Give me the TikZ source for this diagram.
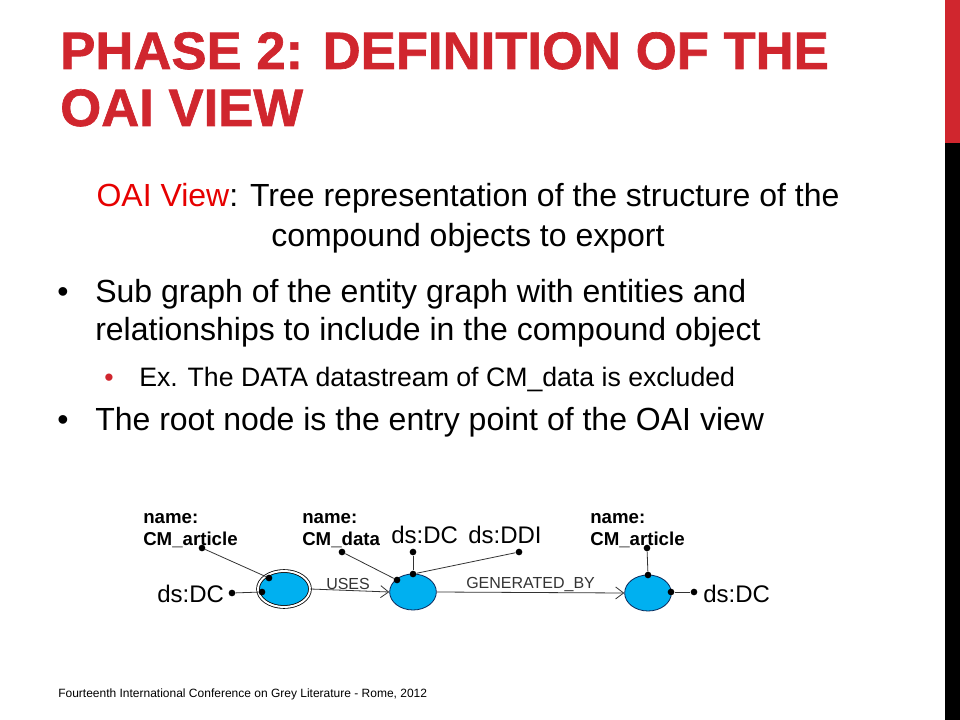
\documentclass[tikz,border=0pt]{standalone}
\usepackage{fontspec}
\setmainfont{Liberation Sans}
\newfontfamily\titlefont[BoldFeatures={FakeBold=1.2}]{Liberation Sans}
\usepackage{xcolor}
\usetikzlibrary{arrows.meta,shapes.geometric}
\definecolor{slidered}{RGB}{208,38,46}
\definecolor{viewred}{RGB}{230,0,0}
\definecolor{entityblue}{RGB}{0,176,240}
\definecolor{edgeblue}{RGB}{10,40,90}
\tikzset{
	entity/.style={
			ellipse, draw=edgeblue, fill=entityblue, line width=0.6pt,
			minimum width=35pt, minimum height=27pt, inner sep=0pt
		},
	rootentity/.style={
			entity, draw=black, double=white, double distance=1.5pt,
			minimum width=39pt, minimum height=27pt
		},
	dot/.style={circle, fill=black, inner sep=0pt, minimum size=5pt},
	link/.style={draw=black!80, line width=0.6pt},
	rel/.style={link, -{Straight Barb[length=6pt,width=9pt]}},
	txt/.style={inner sep=0pt, anchor=base west},
	title/.style={txt, text=slidered, font=\titlefont\bfseries\fontsize{39.5}{44}\selectfont},
	body/.style={txt, font=\fontsize{24}{29}\selectfont},
	subbody/.style={txt, font=\fontsize{20}{24}\selectfont},
	namelbl/.style={txt, font=\bfseries\fontsize{14}{17}\selectfont},
	dslbl/.style={txt, font=\fontsize{18}{21}\selectfont},
	rellbl/.style={txt, text=black!80, font=\fontsize{12}{14}\selectfont}
}

\begin{document}
\begin{tikzpicture}[x=0.75pt, y=-0.75pt]
	\useasboundingbox (0,0) rectangle (960,720);
	% side bar
	\fill[slidered] (945,0) rectangle (960,143);
	\fill[black] (945,143) rectangle (960,720);

	% title
	\node[title] (t1) at (60,69) {PHASE 2: DEFINITION OF THE};
	\node[title] (t2) at (60,126) {OAI VIEW};

	% definition
	\node[body, anchor=base] (def1) at (468,207) {\textcolor{viewred}{OAI View}: Tree representation of the structure of the};
	\node[body, anchor=base] (def2) at (468,247) {compound objects to export};

	% bullets
	\node[body] (bul1) at (57,302) {•};
	\node[body] (item1) at (95,302) {Sub graph of the entity graph with entities and};
	\node[body] (item1b) at (95,340) {relationships to include in the compound object};
	\node[subbody, text=slidered] (bul2) at (104,386) {•};
	\node[subbody] (item2) at (139,386) {Ex. The DATA datastream of CM\_data is excluded};
	\node[body] (bul3) at (57,430) {•};
	\node[body] (item3) at (95,430) {The root node is the entry point of the OAI view};

	% entities
	\node[rootentity] (root) at (284,589) {};
	\node[entity] (data) at (413,592) {};
	\node[entity] (art) at (648,593) {};

	% relationships
	\draw[rel] (root.east) -- (data.west);
	\draw[rel] (data.east) -- (art.west);
	\node[rellbl] (uses) at (326,589) {USES};
	\node[rellbl] (genby) at (466,588) {GENERATED\_BY};

	% labels
	\node[namelbl] (n1) at (143,523) {name:};
	\node[namelbl] (n1b) at (143,545) {CM\_article};
	\node[namelbl] (n2) at (302,523) {name:};
	\node[namelbl] (n2b) at (302,545) {CM\_data};
	\node[namelbl] (n3) at (590,523) {name:};
	\node[namelbl] (n3b) at (590,545) {CM\_article};
	\node[dslbl] (dc1) at (157,602) {ds:DC};
	\node[dslbl] (dc2) at (391,543) {ds:DC};
	\node[dslbl] (ddi) at (468,543) {ds:DDI};
	\node[dslbl] (dc3) at (703,602) {ds:DC};

	% attribute dots
	\node[dot] (pdc1) at (232,593) {};
	\node[dot] (proot1) at (262,592) {};
	\node[dot] (pn1) at (202,548) {};
	\node[dot] (proot2) at (269,578) {};
	\node[dot] (pn2) at (342,552) {};
	\node[dot] (pdata1) at (397,580) {};
	\node[dot] (pdc2) at (413,552) {};
	\node[dot] (pdata2) at (413,574) {};
	\node[dot] (pddi) at (519,552) {};
	\node[dot] (pn3) at (647,548) {};
	\node[dot] (part1) at (648,575) {};
	\node[dot] (part2) at (671,592) {};
	\node[dot] (pdc3) at (694,592) {};

	\draw[link] (pdc1) -- (proot1);
	\draw[link] (pn1) -- (proot2);
	\draw[link] (pn2) -- (pdata1);
	\draw[link] (pdc2) -- (pdata2);
	\draw[link] (pdata2) -- (pddi);
	\draw[link] (pn3) -- (part1);
	\draw[link] (part2) -- (pdc3);

	% footer
	\node[txt, font=\fontsize{9}{11}\selectfont] (foot) at (58,697) {Fourteenth International Conference on Grey Literature - Rome, 2012};
\end{tikzpicture}
\end{document}
